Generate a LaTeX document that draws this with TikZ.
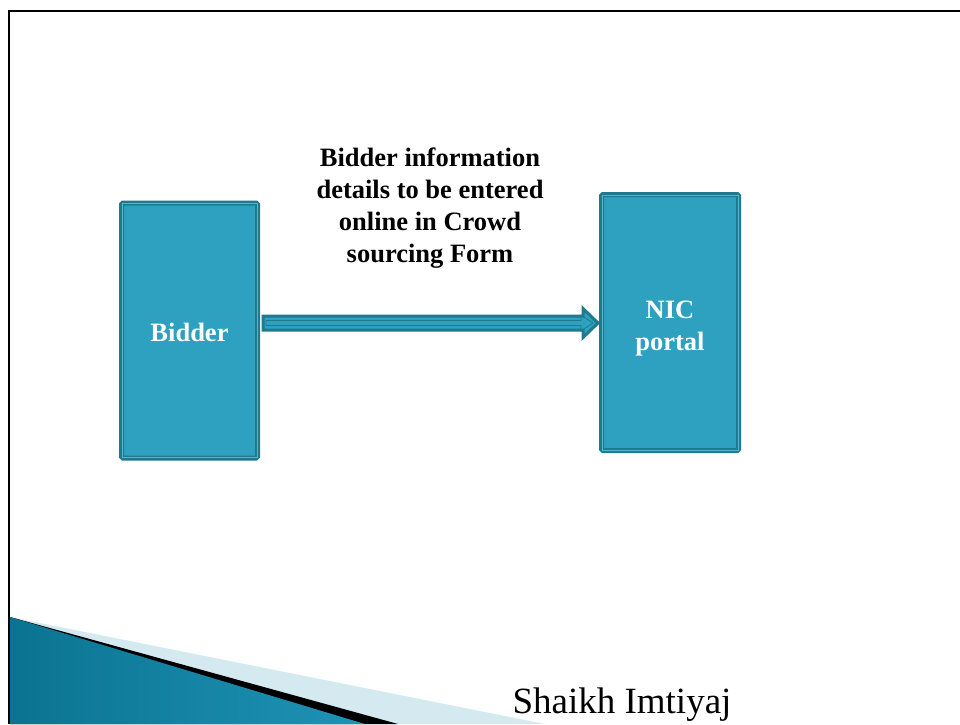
\documentclass[tikz,border=0pt]{standalone}
\usepackage{fontspec}
\setmainfont{Liberation Serif}
\usetikzlibrary{calc}
\definecolor{boxfill}{HTML}{2DA1BF}
\definecolor{boxdark}{HTML}{1F7A8E}
\definecolor{boxlight}{HTML}{55B6CE}
\definecolor{swlight}{HTML}{D5E9F1}
\definecolor{swdark}{HTML}{0B7391}
\definecolor{swmid}{HTML}{5BBADA}
\definecolor{swright}{HTML}{1E93B6}
\tikzset{
  boxsty/.style={draw=boxdark, line width=5pt, fill=boxfill, rounded corners=1.5pt, inner sep=0pt},
  boxtext/.style={text=white, align=center, inner sep=0pt,
    font=\fontsize{26.5}{32}\selectfont\bfseries},
  innerlight/.style={draw=boxlight, line width=1pt},
  innerdark/.style={draw=boxdark, line width=1.2pt},
  arrowsty/.style={draw=boxdark, line width=3pt, fill=boxfill, line join=miter},
  arrowinner/.style={draw=boxdark, line width=0.8pt},
  labelsty/.style={align=center, font=\fontsize{26.5}{32}\selectfont\bfseries, text=black},
  framesty/.style={draw=black, line width=2pt},
}
\begin{document}
\begin{tikzpicture}[x=1pt, y=-1pt]
\useasboundingbox (0,0) rectangle (960,724);
\fill[white] (0,0) rectangle (960,724);
% frame
\draw[framesty] (9,724) -- (9,11) -- (960,11);
% swoosh
\fill[swlight] (10,617) -- (545,724) -- (10,724) -- cycle;
\fill[black] (10,617) -- (398,724) -- (10,724) -- cycle;
\shade[left color=swdark, middle color=swmid, right color=swright] (10,617) -- (365,724) -- (10,724) -- cycle;
% boxes
\node[boxsty, minimum width=136pt, minimum height=255pt] (b) at (189.5,330.5) {};
\node[boxsty, minimum width=137pt, minimum height=256pt] (n) at (670,322.5) {};
\foreach \bx in {b,n}{
  \draw[innerlight] ([xshift=3pt,yshift=-3pt]\bx.north west) rectangle ([xshift=-3pt,yshift=3pt]\bx.south east);
  \draw[innerdark] ([xshift=4.1pt,yshift=-4.1pt]\bx.north west) rectangle ([xshift=-4.1pt,yshift=4.1pt]\bx.south east);
}
\node[boxtext] (bt) at (189.5,332.5) {Bidder};
\node[boxtext] (nt) at (670,328.5) {NIC\\portal};
% arrow
\coordinate (as) at ($(b.east |- 0,323)+(3,0)$);
\coordinate (ae) at ($(n.west |- 0,323)+(-1,0)$);
\draw[arrowsty] ($(as)+(0,-7)$) -- ($(ae)+(-15,-7)$) -- ($(ae)+(-15,-14.5)$) -- (ae)
  -- ($(ae)+(-15,14.5)$) -- ($(ae)+(-15,7)$) -- ($(as)+(0,7)$) -- cycle;
\draw[arrowinner] ($(as)+(3,-2.5)$) -- ($(ae)+(-17,-2.5)$) -- ($(ae)+(-17,-8)$) -- ($(ae)+(-5,0)$)
  -- ($(ae)+(-17,8)$) -- ($(ae)+(-17,2.5)$) -- ($(as)+(3,2.5)$) -- cycle;
% label
\node[labelsty] (lbl) at (430,208) {Bidder information\\details to be entered\\online in Crowd\\sourcing Form};
% author
\node[anchor=base, font=\fontsize{37}{44}\selectfont, inner sep=0pt] (auth) at (622,713) {Shaikh Imtiyaj};
\end{tikzpicture}
\end{document}
